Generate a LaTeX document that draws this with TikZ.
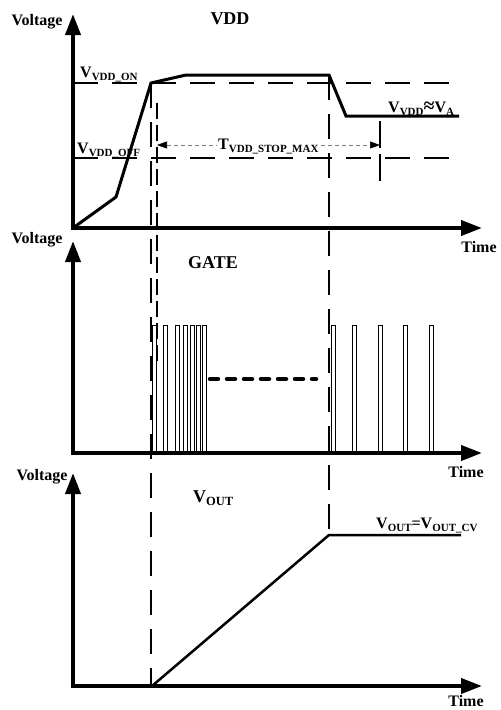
\documentclass[tikz,border=0pt]{standalone}
\usepackage{fontspec}
\setmainfont{Liberation Serif}
\usetikzlibrary{arrows.meta}
\newcommand\mysub[1]{\raisebox{-3pt}{\fontsize{11}{11}\selectfont #1}}
\newcommand\mybigsub[1]{\raisebox{-3pt}{\fontsize{12.5}{12.5}\selectfont #1}}
\begin{document}
\begin{tikzpicture}[x=1pt,y=-1pt,
  axisline/.style={line width=4pt, line join=miter,
     {Triangle[length=21pt,width=15pt]}-{Triangle[length=21pt,width=15pt]}},
  sig/.style={line width=3pt, line join=miter},
  guide/.style={line width=1.5pt, dash pattern=on 25pt off 14pt},
  pulse/.style={line width=0.9pt},
  lbl/.style={inner sep=0pt, anchor=base west, font=\bfseries\fontsize{16}{16}\selectfont},
  axlbl/.style={inner sep=0pt, font=\bfseries\fontsize{16}{16}\selectfont},
  ttl/.style={inner sep=0pt, font=\bfseries\fontsize{18}{18}\selectfont}]
\useasboundingbox (0,0) rectangle (501,710);

% ---------- guide lines ----------
\coordinate (on1) at (73,83);  \coordinate (on2) at (455,83);
\coordinate (off1) at (73,158); \coordinate (off2) at (455,158);
\draw[guide] (on1) -- (on2);
\draw[guide] (off1) -- (off2);
\coordinate (va1) at (151,83);  \coordinate (va2) at (151,688);
\draw[guide] (va1) -- (va2);
\coordinate (vb1) at (157,103); \coordinate (vb2) at (157,367);
\draw[line width=1.5pt, dash pattern=on 16pt off 6pt] (vb1) -- (vb2);
\coordinate (vc1) at (329,75);  \coordinate (vc2) at (329,535);
\draw[guide] (vc1) -- (vc2);
\coordinate (vd1) at (380,121); \coordinate (vd2) at (380,186);
\draw[line width=1.5pt, dash pattern=on 27pt off 6pt] (vd1) -- (vd2);

% ---------- T_VDD_STOP_MAX ----------
\coordinate (t1) at (157,145); \coordinate (t2) at (380,145);
\draw[gray, line width=0.6pt, dash pattern=on 4pt off 3pt,
  {Triangle[length=10pt,width=7pt,color=black]}-{Triangle[length=10pt,width=7pt,color=black]}] (t1) -- (t2);
\node[lbl, fill=white, inner xsep=1pt] (tlab) at (217,149) {T\mysub{VDD\_STOP\_MAX}};

% ---------- panel 1: VDD ----------
\draw[sig] (73,228) -- (116,197) -- (151,83) -- (186,75) -- (329,75) -- (346,116) -- (459,116);
\coordinate (y1) at (73,14); \coordinate (o1) at (73,228); \coordinate (x1) at (482,228);
\draw[axisline] (y1) -- (o1) -- (x1);
\node[axlbl] (v1) at (37,22) {Voltage};
\node[axlbl] (tm1) at (479,247) {Time};
\node[ttl] (vddt) at (230,19) {VDD};
\node[lbl] (von) at (80,77) {V\mysub{VDD\_ON}};
\node[lbl] (voff) at (77,153) {V\mysub{VDD\_OFF}};
\node[lbl] (va) at (388,112) {V\mysub{VDD}{\fontsize{20}{20}\selectfont ≈}V\mysub{A}};

% ---------- panel 2: GATE ----------
\foreach \px in {152,163,175,183,190,196,202,331,352.3,378,403.3,429}
  \draw[pulse] (\px,453) -- (\px,325) -- (\px+4.5,325) -- (\px+4.5,453);
\coordinate (d1) at (210,379); \coordinate (d2) at (316,379);
\draw[line width=4.5pt, dash pattern=on 8pt off 9pt, line cap=round] (d1) -- (d2);
\coordinate (y2) at (73,241); \coordinate (o2) at (73,453); \coordinate (x2) at (482,453);
\draw[axisline] (y2) -- (o2) -- (x2);
\node[axlbl] (v2) at (37,240) {Voltage};
\node[axlbl] (tm2) at (466,472) {Time};
\node[ttl] (gatet) at (213,263) {GATE};

% ---------- panel 3: VOUT ----------
\draw[line width=2.5pt, line join=miter] (152,686) -- (329,535) -- (461,535);
\coordinate (y3) at (73,473); \coordinate (o3) at (73,686); \coordinate (x3) at (482,686);
\draw[axisline] (y3) -- (o3) -- (x3);
\node[axlbl] (v3) at (42,477) {Voltage};
\node[axlbl] (tm3) at (466,701) {Time};
\node[inner sep=0pt, anchor=base west, font=\bfseries\fontsize{18}{18}\selectfont] (voutt) at (193,502) {V\mybigsub{OUT}};
\node[lbl] (vcv) at (376,528) {V\mysub{OUT}=V\mysub{OUT\_CV}};
\end{tikzpicture}
\end{document}
